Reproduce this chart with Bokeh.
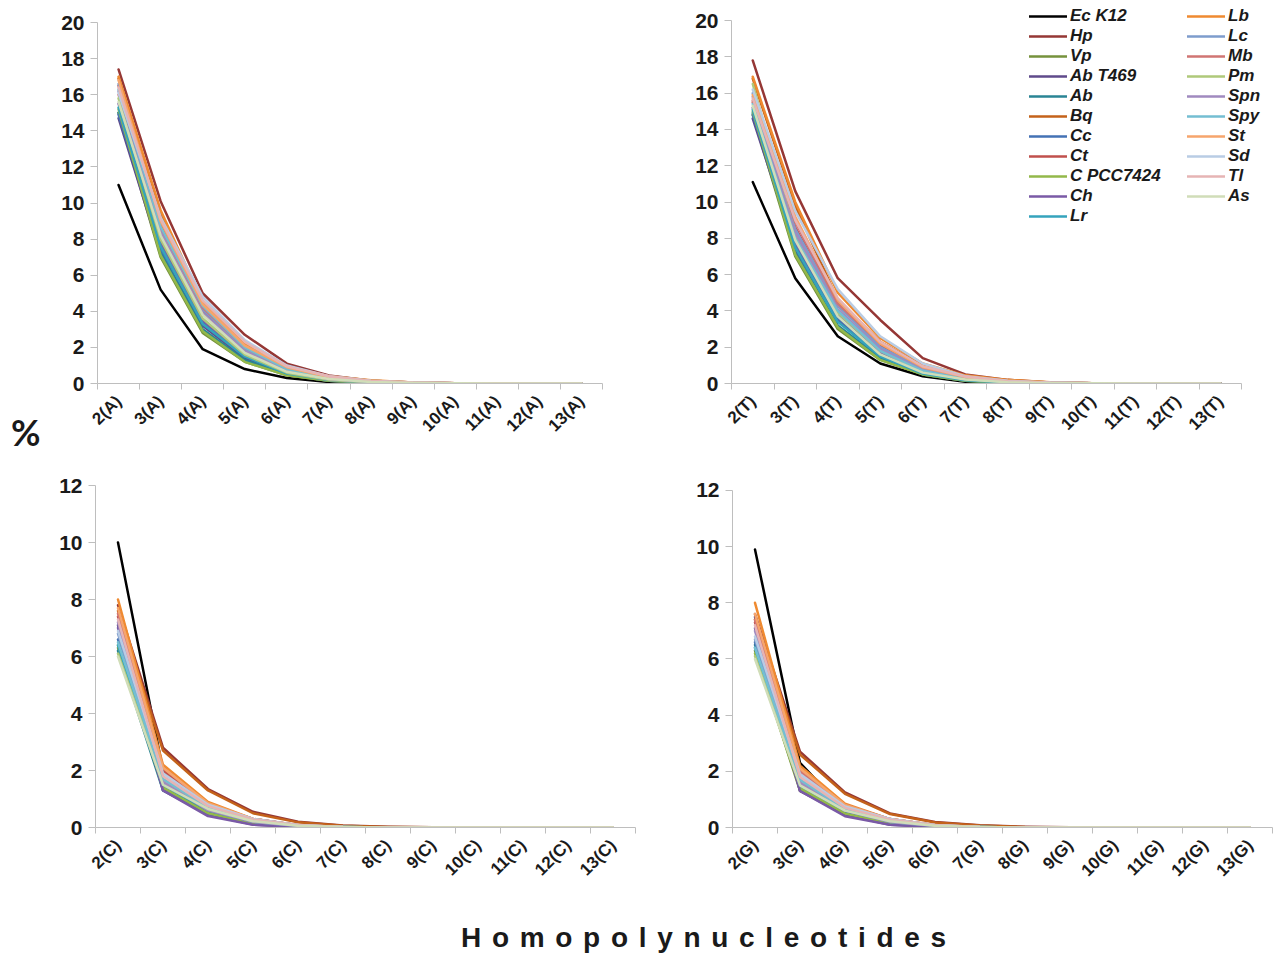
from bokeh.plotting import figure
from bokeh.models import FixedTicker, Legend, LegendItem, Div, Range1d
from bokeh.layouts import row, column
from bokeh.embed import file_html
from bokeh.resources import INLINE
import math

series = ["Ec K12", "Hp", "Vp", "Ab T469", "Ab", "Bq", "Cc", "Ct", "C PCC7424", "Ch", "Lr",
          "Lb", "Lc", "Mb", "Pm", "Spn", "Spy", "St", "Sd", "Tl", "As"]
colors = ["#000000", "#953735", "#76923C", "#5F4A8B", "#2A8494", "#C4621A", "#4472B4", "#C0504D",
          "#93B84A", "#7A5AA6", "#35A3BC", "#EF8A30", "#7E9CCC", "#D07573", "#AFC97A", "#A08ABF",
          "#74BED2", "#F6A56C", "#B9CCE4", "#E6B4B4", "#D0DDB8"]

lengths = [2, 3, 4, 5, 6, 7, 8, 9, 10, 11, 12, 13]
labels_A = ["2(A)", "3(A)", "4(A)", "5(A)", "6(A)", "7(A)", "8(A)", "9(A)", "10(A)", "11(A)", "12(A)", "13(A)"]
labels_T = ["2(T)", "3(T)", "4(T)", "5(T)", "6(T)", "7(T)", "8(T)", "9(T)", "10(T)", "11(T)", "12(T)", "13(T)"]
labels_C = ["2(C)", "3(C)", "4(C)", "5(C)", "6(C)", "7(C)", "8(C)", "9(C)", "10(C)", "11(C)", "12(C)", "13(C)"]
labels_G = ["2(G)", "3(G)", "4(G)", "5(G)", "6(G)", "7(G)", "8(G)", "9(G)", "10(G)", "11(G)", "12(G)", "13(G)"]

vals_A = [
    [11.0, 5.2, 1.9, 0.8, 0.3, 0.08, 0.03, 0.01, 0, 0, 0, 0],
    [17.4, 10.1, 5.0, 2.7, 1.1, 0.45, 0.15, 0.05, 0.02, 0.01, 0, 0],
    [15.0, 7.0, 2.8, 1.2, 0.45, 0.15, 0.05, 0.02, 0.01, 0, 0, 0],
    [14.7, 7.2, 3.2, 1.4, 0.5, 0.15, 0.05, 0.02, 0.01, 0, 0, 0],
    [15.0, 7.3, 3.0, 1.3, 0.5, 0.15, 0.05, 0.02, 0.01, 0, 0, 0],
    [16.9, 9.4, 4.3, 2.1, 0.9, 0.35, 0.15, 0.05, 0.02, 0.01, 0, 0],
    [14.9, 7.5, 3.4, 1.5, 0.6, 0.2, 0.07, 0.02, 0.01, 0, 0, 0],
    [16.5, 8.8, 4.0, 1.9, 0.8, 0.3, 0.1, 0.04, 0.01, 0, 0, 0],
    [15.2, 7.1, 2.9, 1.2, 0.45, 0.15, 0.05, 0.02, 0.01, 0, 0, 0],
    [15.5, 7.8, 3.5, 1.6, 0.6, 0.2, 0.07, 0.02, 0.01, 0, 0, 0],
    [15.3, 7.6, 3.3, 1.5, 0.55, 0.2, 0.06, 0.02, 0.01, 0, 0, 0],
    [17.0, 9.6, 4.5, 2.2, 0.9, 0.4, 0.18, 0.06, 0.02, 0.01, 0, 0],
    [16.6, 8.5, 4.1, 1.9, 0.8, 0.3, 0.1, 0.03, 0.01, 0, 0, 0],
    [16.0, 8.6, 4.2, 2.0, 0.8, 0.3, 0.1, 0.03, 0.01, 0, 0, 0],
    [15.8, 8.0, 3.6, 1.6, 0.6, 0.2, 0.07, 0.02, 0.01, 0, 0, 0],
    [16.2, 8.4, 3.9, 1.8, 0.7, 0.25, 0.08, 0.03, 0.01, 0, 0, 0],
    [16.3, 8.7, 4.3, 2.0, 0.8, 0.3, 0.1, 0.03, 0.01, 0, 0, 0],
    [16.8, 9.0, 4.4, 2.1, 0.9, 0.35, 0.12, 0.04, 0.01, 0, 0, 0],
    [16.1, 9.2, 4.8, 2.4, 1.0, 0.4, 0.15, 0.05, 0.02, 0.01, 0, 0],
    [16.4, 9.1, 4.6, 2.3, 0.95, 0.4, 0.14, 0.05, 0.02, 0.01, 0, 0],
    [15.6, 8.2, 3.8, 1.7, 0.65, 0.25, 0.08, 0.03, 0.01, 0, 0, 0],
]
vals_T = [
    [11.1, 5.8, 2.6, 1.1, 0.4, 0.1, 0.03, 0.01, 0, 0, 0, 0],
    [17.8, 10.6, 5.8, 3.5, 1.4, 0.5, 0.2, 0.06, 0.02, 0.01, 0, 0],
    [14.8, 7.0, 3.0, 1.3, 0.5, 0.15, 0.05, 0.02, 0.01, 0, 0, 0],
    [14.6, 7.4, 3.5, 1.5, 0.55, 0.18, 0.06, 0.02, 0.01, 0, 0, 0],
    [14.9, 7.2, 3.2, 1.4, 0.5, 0.15, 0.05, 0.02, 0.01, 0, 0, 0],
    [16.8, 9.8, 4.6, 2.3, 1.0, 0.4, 0.18, 0.06, 0.02, 0.01, 0, 0],
    [14.8, 7.6, 3.6, 1.6, 0.6, 0.2, 0.07, 0.02, 0.01, 0, 0, 0],
    [15.5, 8.6, 4.3, 2.1, 0.85, 0.3, 0.1, 0.03, 0.01, 0, 0, 0],
    [15.0, 7.1, 3.1, 1.3, 0.5, 0.15, 0.05, 0.02, 0.01, 0, 0, 0],
    [15.2, 7.8, 3.8, 1.7, 0.65, 0.22, 0.07, 0.02, 0.01, 0, 0, 0],
    [15.1, 7.5, 3.4, 1.5, 0.55, 0.18, 0.06, 0.02, 0.01, 0, 0, 0],
    [16.9, 10.0, 5.0, 2.5, 1.1, 0.45, 0.2, 0.07, 0.02, 0.01, 0, 0],
    [16.0, 8.5, 4.3, 2.0, 0.8, 0.3, 0.1, 0.03, 0.01, 0, 0, 0],
    [15.6, 8.9, 4.4, 2.2, 0.9, 0.35, 0.12, 0.04, 0.01, 0, 0, 0],
    [16.5, 8.2, 3.9, 1.8, 0.7, 0.25, 0.08, 0.03, 0.01, 0, 0, 0],
    [15.8, 8.3, 4.1, 1.9, 0.75, 0.28, 0.09, 0.03, 0.01, 0, 0, 0],
    [15.4, 8.0, 4.0, 1.8, 0.7, 0.25, 0.08, 0.03, 0.01, 0, 0, 0],
    [15.9, 9.2, 4.6, 2.2, 0.9, 0.35, 0.12, 0.04, 0.01, 0, 0, 0],
    [16.2, 9.5, 5.2, 2.6, 1.1, 0.4, 0.15, 0.05, 0.02, 0.01, 0, 0],
    [15.7, 9.0, 4.7, 2.3, 0.95, 0.38, 0.13, 0.04, 0.01, 0, 0, 0],
    [15.3, 7.9, 3.7, 1.6, 0.6, 0.22, 0.07, 0.02, 0.01, 0, 0, 0],
]
vals_C = [
    [10.0, 2.0, 0.6, 0.15, 0.04, 0.01, 0, 0, 0, 0, 0, 0],
    [7.8, 2.8, 1.35, 0.55, 0.2, 0.07, 0.03, 0.01, 0, 0, 0, 0],
    [6.3, 1.4, 0.55, 0.15, 0.04, 0.01, 0, 0, 0, 0, 0, 0],
    [7.1, 1.3, 0.45, 0.1, 0.02, 0.01, 0, 0, 0, 0, 0, 0],
    [6.2, 1.3, 0.5, 0.15, 0.04, 0.01, 0, 0, 0, 0, 0, 0],
    [7.6, 2.7, 1.3, 0.5, 0.18, 0.06, 0.02, 0.01, 0, 0, 0, 0],
    [6.6, 1.5, 0.7, 0.25, 0.07, 0.02, 0, 0, 0, 0, 0, 0],
    [7.4, 2.0, 0.8, 0.3, 0.08, 0.02, 0, 0, 0, 0, 0, 0],
    [6.4, 1.4, 0.5, 0.15, 0.04, 0.01, 0, 0, 0, 0, 0, 0],
    [7.0, 1.3, 0.4, 0.1, 0.02, 0.01, 0, 0, 0, 0, 0, 0],
    [6.4, 1.5, 0.6, 0.2, 0.06, 0.02, 0, 0, 0, 0, 0, 0],
    [8.0, 2.2, 0.9, 0.3, 0.08, 0.02, 0, 0, 0, 0, 0, 0],
    [6.8, 1.7, 0.75, 0.3, 0.08, 0.02, 0, 0, 0, 0, 0, 0],
    [7.5, 2.1, 0.8, 0.3, 0.08, 0.02, 0, 0, 0, 0, 0, 0],
    [6.1, 1.6, 0.7, 0.25, 0.07, 0.02, 0, 0, 0, 0, 0, 0],
    [7.2, 1.6, 0.6, 0.2, 0.05, 0.01, 0, 0, 0, 0, 0, 0],
    [6.5, 1.7, 0.7, 0.25, 0.07, 0.02, 0, 0, 0, 0, 0, 0],
    [7.7, 2.1, 0.85, 0.3, 0.08, 0.02, 0, 0, 0, 0, 0, 0],
    [6.9, 1.9, 0.8, 0.3, 0.09, 0.02, 0, 0, 0, 0, 0, 0],
    [7.3, 1.8, 0.75, 0.28, 0.08, 0.02, 0, 0, 0, 0, 0, 0],
    [6.0, 1.5, 0.65, 0.22, 0.06, 0.02, 0, 0, 0, 0, 0, 0],
]
vals_G = [
    [9.9, 2.3, 0.6, 0.15, 0.04, 0.01, 0, 0, 0, 0, 0, 0],
    [7.6, 2.7, 1.25, 0.5, 0.2, 0.08, 0.03, 0.01, 0, 0, 0, 0],
    [6.3, 1.3, 0.5, 0.15, 0.04, 0.01, 0, 0, 0, 0, 0, 0],
    [7.5, 1.3, 0.45, 0.1, 0.02, 0, 0, 0, 0, 0, 0, 0],
    [6.5, 1.4, 0.55, 0.15, 0.04, 0.01, 0, 0, 0, 0, 0, 0],
    [7.4, 2.6, 1.2, 0.48, 0.18, 0.07, 0.02, 0.01, 0, 0, 0, 0],
    [6.6, 1.5, 0.7, 0.25, 0.07, 0.02, 0, 0, 0, 0, 0, 0],
    [7.3, 2.0, 0.8, 0.3, 0.08, 0.02, 0, 0, 0, 0, 0, 0],
    [6.2, 1.4, 0.5, 0.15, 0.04, 0.01, 0, 0, 0, 0, 0, 0],
    [7.1, 1.3, 0.4, 0.1, 0.02, 0, 0, 0, 0, 0, 0, 0],
    [6.4, 1.5, 0.6, 0.2, 0.06, 0.02, 0, 0, 0, 0, 0, 0],
    [8.0, 2.2, 0.85, 0.3, 0.08, 0.02, 0, 0, 0, 0, 0, 0],
    [6.7, 1.7, 0.7, 0.28, 0.08, 0.02, 0, 0, 0, 0, 0, 0],
    [7.4, 2.0, 0.8, 0.3, 0.08, 0.02, 0, 0, 0, 0, 0, 0],
    [6.1, 1.6, 0.65, 0.25, 0.07, 0.02, 0, 0, 0, 0, 0, 0],
    [7.0, 1.6, 0.6, 0.2, 0.05, 0.01, 0, 0, 0, 0, 0, 0],
    [6.4, 1.7, 0.65, 0.25, 0.07, 0.02, 0, 0, 0, 0, 0, 0],
    [7.6, 2.1, 0.8, 0.3, 0.08, 0.02, 0, 0, 0, 0, 0, 0],
    [6.8, 1.9, 0.75, 0.3, 0.09, 0.02, 0, 0, 0, 0, 0, 0],
    [7.2, 1.8, 0.7, 0.28, 0.08, 0.02, 0, 0, 0, 0, 0, 0],
    [6.0, 1.5, 0.6, 0.22, 0.06, 0.02, 0, 0, 0, 0, 0, 0],
]

y_ticks_top = [0, 2, 4, 6, 8, 10, 12, 14, 16, 18, 20]
y_ticks_bottom = [0, 2, 4, 6, 8, 10, 12]

FONT = "Liberation Sans"
AXIS_GRAY = "#BEBEBE"
TEXT = "#1A1A1A"


def panel(vals, labels, yticks, width, height, bl, br, bt, bb, extra_right_px=0, extra_top_px=0):
    # frame geometry: axis spans categories; optional extra (empty) frame space above / right
    frame_w = width - bl - br
    frame_h = height - bt - bb
    axis_w = frame_w - extra_right_px
    axis_h = frame_h - extra_top_px
    x0 = lengths[0] - 0.5
    x1 = lengths[-1] + 0.5
    y0 = yticks[0]
    y1 = yticks[-1]
    x_end = x1 + (x1 - x0) * extra_right_px / axis_w
    y_end = y1 + (y1 - y0) * extra_top_px / axis_h
    p = figure(width=width, height=height, output_backend="svg", toolbar_location=None,
               x_range=Range1d(x0, x_end), y_range=Range1d(y0, y_end),
               min_border_left=bl, min_border_right=br, min_border_top=bt, min_border_bottom=bb)
    p.outline_line_color = None
    p.xgrid.visible = False
    p.ygrid.visible = False
    renderers = []
    for s, c, v in zip(series, colors, vals):
        r = p.line(lengths, v, line_color=c, line_width=2.5, line_join="round", line_cap="round")
        renderers.append(r)
    xa = p.xaxis[0]
    xa.bounds = (x0, x1)
    xa.ticker = FixedTicker(ticks=lengths, minor_ticks=[x - 0.5 for x in lengths] + [x1])
    xa.major_label_overrides = {x: l for x, l in zip(lengths, labels)}
    xa.major_label_orientation = math.pi / 4
    xa.major_tick_line_color = None
    xa.major_tick_out = 0
    xa.major_tick_in = 0
    xa.minor_tick_line_color = AXIS_GRAY
    xa.minor_tick_out = 6
    xa.minor_tick_in = 0
    xa.axis_line_color = AXIS_GRAY
    xa.major_label_standoff = 9
    xa.major_label_text_font = FONT
    xa.major_label_text_font_style = "bold"
    xa.major_label_text_font_size = "17px"
    xa.major_label_text_color = TEXT
    ya = p.yaxis[0]
    ya.bounds = (y0, y1)
    ya.ticker = FixedTicker(ticks=yticks, minor_ticks=[])
    ya.axis_line_color = AXIS_GRAY
    ya.major_tick_line_color = AXIS_GRAY
    ya.major_tick_out = 7
    ya.major_tick_in = 0
    ya.major_label_standoff = 6
    ya.major_label_text_font = FONT
    ya.major_label_text_font_style = "bold"
    ya.major_label_text_font_size = "21px"
    ya.major_label_text_color = TEXT
    return p, renderers


p1, _ = panel(vals_A, labels_A, y_ticks_top, 595, 453, 50, 40, 5, 70, extra_top_px=17)
p2, rends = panel(vals_T, labels_T, y_ticks_top, 638, 453, 89, 0, 5, 70, extra_right_px=39, extra_top_px=15)
p3, _ = panel(vals_C, labels_C, y_ticks_bottom, 595, 436, 48, 7, 32, 60)
p4, _ = panel(vals_G, labels_G, y_ticks_bottom, 638, 436, 90, 8, 32, 60, extra_top_px=5)


def make_legend(idx, loc):
    leg = Legend(items=[LegendItem(label=series[i], renderers=[rends[i]]) for i in idx],
                 location=loc, orientation="vertical")
    leg.label_text_font = FONT
    leg.label_text_font_style = "bold italic"
    leg.label_text_font_size = "17px"
    leg.label_text_color = TEXT
    leg.glyph_width = 38
    leg.glyph_height = 20
    leg.label_height = 20
    leg.spacing = 0
    leg.padding = 0
    leg.margin = 0
    leg.label_standoff = 3
    leg.border_line_color = None
    leg.background_fill_alpha = 0
    return leg


p2.add_layout(make_legend(list(range(0, 11)), (298, 157)))
p2.add_layout(make_legend(list(range(11, 21)), (456, 177)))

pct = Div(text='<div style="margin-top:402px; margin-left:6px; font-family: Lato; font-weight: bold; '
               'font-size: 36px; color: #1A1A1A;">%</div>', width=37, height=940)
xlab = Div(text='<div style="margin-top:24px; margin-left:409px; font-family: \'Liberation Sans\'; '
                'font-weight: bold; font-size: 28px; letter-spacing: 10.7px; white-space: nowrap; '
                'color: #1A1A1A;">Homopolynucleotides</div>', width=1233, height=63)

layout = row(pct, column(row(p1, p2), row(p3, p4), xlab))

open("out.html", "w").write(file_html(layout, INLINE))
